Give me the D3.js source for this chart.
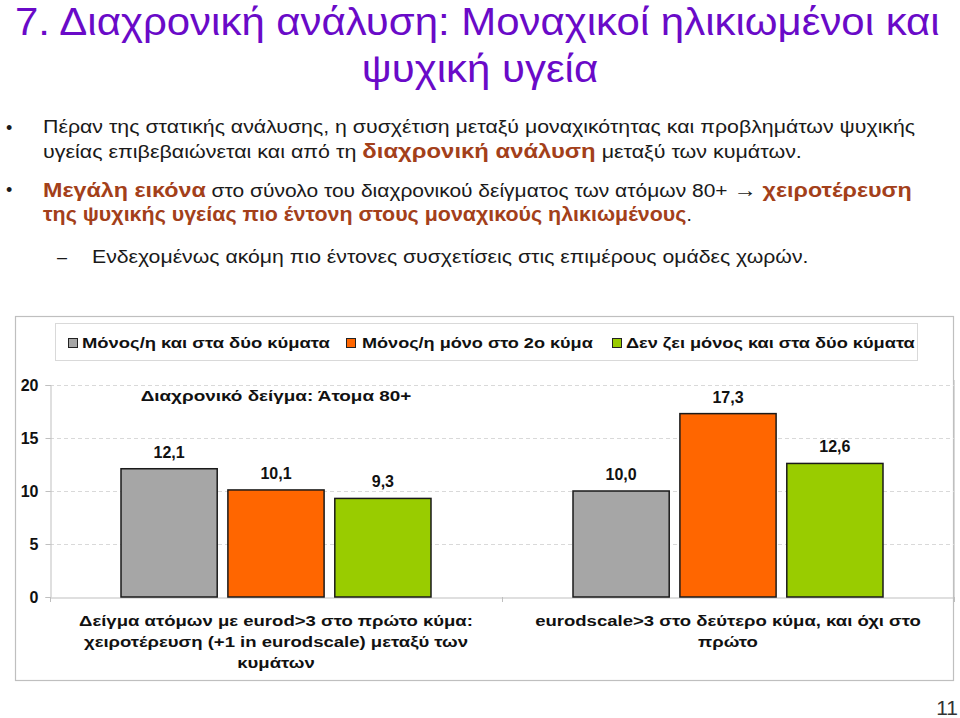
<!DOCTYPE html>
<html>
<head>
<meta charset="utf-8">
<script src="https://cdn.jsdelivr.net/npm/d3@7"></script>
<style>
  html, body { margin: 0; padding: 0; background: #ffffff; }
  svg { display: block; }
  text { font-family: "Liberation Sans", Arial, sans-serif; }
</style>
</head>
<body>
<svg id="chart" width="960" height="718"></svg>
<script>
// ---------------- data ----------------
const categories = [
  "Δείγμα ατόμων με eurod>3 στο πρώτο κύμα: χειροτέρευση (+1 in eurodscale) μεταξύ των κυμάτων",
  "eurodscale>3 στο δεύτερο κύμα, και όχι στο πρώτο"
];
const categoryLines = [
  ["Δείγμα ατόμων με eurod>3 στο πρώτο κύμα:", "χειροτέρευση (+1 in eurodscale) μεταξύ των", "κυμάτων"],
  ["eurodscale>3 στο δεύτερο κύμα, και όχι στο", "πρώτο"]
];
const seriesNames = [
  "Μόνος/η και στα δύο κύματα",
  "Μόνος/η μόνο στο 2ο κύμα",
  "Δεν ζει μόνος και στα δύο κύματα"
];
const aloneBothWaves = [12.1, 10.0];
const aloneSecondWaveOnly = [10.1, 17.3];
const notAloneBothWaves = [9.3, 12.6];
const yTicks = [0, 5, 10, 15, 20];
const chartTitle = "Διαχρονικό δείγμα: Άτομα 80+";
const slideTitle = ["7. Διαχρονική ανάλυση: Μοναχικοί ηλικιωμένοι και", "ψυχική υγεία"];
const pageNumber = "11";

// ---------------- styles ----------------
const seriesColors = ["#A6A6A6", "#FF6600", "#99CC00"];
const purple = "#6A0AC8";
const brown = "#A3401A";
const textDark = "#1a1a1a";

const svg = d3.select("#chart");
svg.append("rect").attr("width", 960).attr("height", 718).attr("fill", "#fff");

function fitText(g, x, y, targetWidth, anchor) {
  const t = g.select("text");
  const w = t.node().getComputedTextLength();
  const s = targetWidth / w;
  g.attr("transform", `translate(${x},${y}) scale(${s},1)`);
  t.attr("text-anchor", anchor || "start");
  return s;
}
function measure(t) { return t.node().getComputedTextLength(); }

// ---------------- slide title ----------------
const tg1 = svg.append("g");
tg1.append("text").attr("x", 0).attr("y", 0).attr("font-size", 38).attr("fill", purple).text(slideTitle[0]);
const w1 = measure(tg1.select("text"));
const sTitle = (940 - 15) / w1;
tg1.attr("transform", `translate(15,35) scale(${sTitle},1)`);
const tg2 = svg.append("g").attr("transform", `translate(480,82) scale(${sTitle},1)`);
tg2.append("text").attr("text-anchor", "middle").attr("font-size", 38).attr("fill", purple).text(slideTitle[1]);

// ---------------- bullets ----------------
function bulletLine(y, parts, x) {
  const g = svg.append("g");
  const t = g.append("text").attr("x", 0).attr("y", 0).attr("font-size", 18).attr("fill", textDark);
  parts.forEach(p => {
    const ts = t.append("tspan").text(p.t);
    if (p.b) ts.attr("font-weight", "bold");
    if (p.c) ts.attr("fill", p.c);
    if (p.s) ts.attr("font-size", p.s);
  });
  return { g, t, x, y };
}
const lines = [
  bulletLine(133, [{t: "Πέραν της στατικής ανάλυσης, η συσχέτιση μεταξύ μοναχικότητας και προβλημάτων ψυχικής"}], 43),
  bulletLine(158, [{t: "υγείας επιβεβαιώνεται και από τη "}, {t: "διαχρονική ανάλυση", b: true, c: brown, s: 20}, {t: " μεταξύ των κυμάτων."}], 43),
  bulletLine(197, [{t: "Μεγάλη εικόνα", b: true, c: brown, s: 20}, {t: " στο σύνολο του διαχρονικού δείγματος των ατόμων 80+ "}, {t: "→", b: true, s: 20}, {t: " "}, {t: "χειροτέρευση", b: true, c: brown, s: 20}], 43),
  bulletLine(221, [{t: "της ψυχικής υγείας πιο έντονη στους μοναχικούς ηλικιωμένους", b: true, c: brown, s: 20}, {t: "."}], 43),
  bulletLine(263, [{t: "Ενδεχομένως ακόμη πιο έντονες συσχετίσεις στις επιμέρους ομάδες χωρών."}], 92)
];
const targets = [916 - 43, 802 - 43, 912 - 43, 692 - 43, 809 - 92];
lines.forEach((l, i) => {
  const w = measure(l.t);
  l.g.attr("transform", `translate(${l.x},${l.y}) scale(${targets[i] / w},1)`);
});
svg.append("text").attr("x", 6).attr("y", 134).attr("font-size", 18).attr("fill", textDark).text("•");
svg.append("text").attr("x", 6).attr("y", 196).attr("font-size", 18).attr("fill", textDark).text("•");
svg.append("text").attr("x", 57).attr("y", 263).attr("font-size", 18).attr("fill", textDark).text("–");

// ---------------- chart frame ----------------
svg.append("rect").attr("x", 15.5).attr("y", 316.5).attr("width", 938).attr("height", 364)
  .attr("fill", "#fff").attr("stroke", "#bfbfbf").attr("stroke-width", 1.2);

// legend
svg.append("rect").attr("x", 55.5).attr("y", 323.5).attr("width", 862).attr("height", 37)
  .attr("fill", "#fff").attr("stroke", "#d9d9d9");
const legendSwatchX = [68, 346, 612];
const legendTextX = [82, 362, 626];
const legendTextEnd = [330, 593, 915];
seriesNames.forEach((name, i) => {
  svg.append("rect").attr("x", legendSwatchX[i] + 0.5).attr("y", 338.5).attr("width", 9).attr("height", 9)
    .attr("fill", seriesColors[i]).attr("stroke", "#222").attr("stroke-width", 1);
  const g = svg.append("g");
  g.append("text").attr("font-size", 15.5).attr("font-weight", "bold").attr("fill", "#111").text(name);
  fitText(g, legendTextX[i], 348, legendTextEnd[i] - legendTextX[i]);
});

// ---------------- plot ----------------
const plotLeft = 50, plotRight = 954, plotTop = 385, plotBottom = 597;
const x = d3.scaleBand().domain(categories).range([plotLeft, plotRight]).paddingInner(0).paddingOuter(0);
const xSub = d3.scaleBand().domain(seriesNames).range([71, 381]).paddingInner(0.1).paddingOuter(0);
const y = d3.scaleLinear().domain([0, 20]).range([plotBottom, plotTop]);

svg.append("g").selectAll("line").data(yTicks.filter(d => d > 0)).join("line")
  .attr("x1", plotLeft).attr("x2", plotRight)
  .attr("y1", d => Math.round(y(d)) + 0.5).attr("y2", d => Math.round(y(d)) + 0.5)
  .attr("stroke", "#d9d9d9").attr("stroke-dasharray", "4,3");

const yAxis = svg.append("g").attr("transform", `translate(${plotLeft + 0.5},0)`)
  .call(d3.axisLeft(y).tickValues(yTicks).tickSize(5).tickPadding(7).tickFormat(d3.format("d")));
yAxis.select(".domain").attr("stroke", "#bfbfbf");
yAxis.selectAll(".tick line").attr("stroke", "#bfbfbf");
yAxis.selectAll(".tick text").attr("font-family", "Liberation Sans, Arial, sans-serif")
  .attr("font-size", 16).attr("font-weight", "bold").attr("fill", "#111");

const xAxis = svg.append("g").attr("transform", `translate(0,${plotBottom + 0.5})`)
  .call(d3.axisBottom(x).tickSize(0).tickFormat(""));
xAxis.select(".domain").attr("stroke", "#bfbfbf");
svg.append("g").selectAll("line").data([plotLeft, x(categories[1]), plotRight]).join("line")
  .attr("x1", d => d + 0.5).attr("x2", d => d + 0.5)
  .attr("y1", plotBottom).attr("y2", plotBottom + 5).attr("stroke", "#bfbfbf");
svg.append("line").attr("x1", plotRight + 0.5).attr("x2", plotRight + 0.5)
  .attr("y1", plotTop - 5).attr("y2", plotBottom).attr("stroke", "#d9d9d9");

// bars
const seriesValues = [aloneBothWaves, aloneSecondWaveOnly, notAloneBothWaves];
const barData = [];
categories.forEach((c, ci) => {
  seriesNames.forEach((s, si) => {
    barData.push({ c, s, si, v: seriesValues[si][ci] });
  });
});
svg.append("g").selectAll("rect").data(barData).join("rect")
  .attr("x", d => x(d.c) + xSub(d.s))
  .attr("y", d => y(d.v))
  .attr("width", xSub.bandwidth())
  .attr("height", d => y(0) - y(d.v))
  .attr("fill", d => seriesColors[d.si])
  .attr("stroke", "#1a1a1a").attr("stroke-width", 1.5);

const fmt = v => d3.format(".1f")(v).replace(".", ",");
svg.append("g").selectAll("text").data(barData).join("text")
  .attr("x", d => x(d.c) + xSub(d.s) + xSub.bandwidth() / 2)
  .attr("y", d => y(d.v) - 11)
  .attr("text-anchor", "middle")
  .attr("font-size", 16).attr("font-weight", "bold").attr("fill", "#111")
  .text(d => fmt(d.v));

const ctg = svg.append("g");
ctg.append("text").attr("font-size", 15.5).attr("font-weight", "bold").attr("fill", "#111").text(chartTitle);
fitText(ctg, x(categories[0]) + x.bandwidth() / 2, 401, 271, "middle");

const catLineY = [626, 647, 668];
const probe = svg.append("text").attr("font-size", 15.5).attr("font-weight", "bold").text(categoryLines[0][0]);
const sCat = 394 / measure(probe);
probe.remove();
categoryLines.forEach((ls, ci) => {
  ls.forEach((ln, li) => {
    const g = svg.append("g")
      .attr("transform", `translate(${x(categories[ci]) + x.bandwidth() / 2},${catLineY[li]}) scale(${sCat},1)`);
    g.append("text").attr("text-anchor", "middle").attr("font-size", 15.5).attr("font-weight", "bold")
      .attr("fill", "#111").text(ln);
  });
});

svg.append("text").attr("x", 958).attr("y", 715).attr("text-anchor", "end")
  .attr("font-size", 21).attr("fill", "#333").text(pageNumber);
</script>
</body>
</html>
